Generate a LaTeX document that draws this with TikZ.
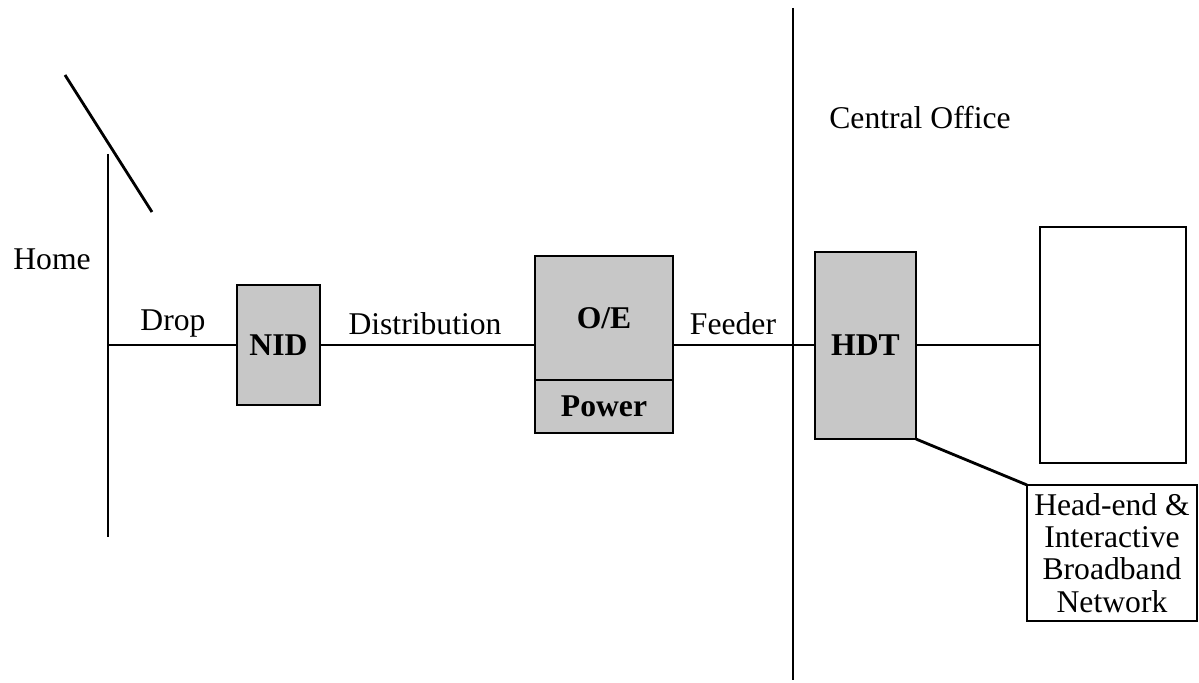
\documentclass[tikz,border=0pt]{standalone}
\usepackage{fontspec}
\setmainfont{Liberation Serif}
\usetikzlibrary{positioning,calc}
\tikzset{
  gbox/.style={draw,line width=2pt,fill=black!22,font=\bfseries,
               inner sep=0pt,outer sep=0pt,align=center},
  wbox/.style={draw,line width=2pt,fill=white,inner sep=2pt,outer sep=0pt,
               align=center},
  wire/.style={line width=2pt},
  lbl/.style={inner sep=0pt},
}
\begin{document}
\fontsize{22.5}{23}\selectfont
\begin{tikzpicture}[x=0.025cm,y=-0.025cm]
  \useasboundingbox (0,0) rectangle (1199,683);
  % home wall and roof
  \draw[wire] (108,154) -- (108,537);
  \draw[wire] (65,75) -- (152,212);
  \coordinate (wall) at (108,345);
  \node[lbl] (home) at (52,259) {Home};
  % boxes
  \node[gbox,minimum width=2.075cm,minimum height=3cm] (nid) at (278.5,345) {NID};
  \node[gbox,minimum width=3.45cm,minimum height=3.1cm] (oe) at (604,318) {O/E};
  \node[gbox,minimum width=3.45cm,minimum height=1.325cm,below=0pt of oe] (pwr) {Power};
  \node[gbox,minimum width=2.525cm,minimum height=4.675cm] (hdt) at (865.5,345.5) {HDT};
  \node[wbox,minimum width=3.65cm,minimum height=5.9cm] (rack) at (1113,345) {};
  \node[wbox,minimum width=4.25cm,minimum height=3.4cm] (hend) at (1112,553)
       {Head-end \&\\Interactive\\Broadband\\Network};
  % central office boundary
  \draw[wire] (793,8) -- (793,680);
  \node[lbl] (co) at (920,118) {Central Office};
  % links
  \draw[wire] (wall) -- (nid.west);
  \draw[wire] (nid.east) -- (oe.west |- nid.east);
  \draw[wire] (oe.east |- nid.east) -- (hdt.west |- nid.east);
  \draw[wire] (hdt.east |- rack.west) -- (rack.west);
  \draw[wire] (hdt.south east) -- (hend.north west);
  \node[lbl] (drop) at (173,324) {Drop};
  \node[lbl] (dist) at (425,324) {Distribution};
  \node[lbl] (feed) at (733,324) {Feeder};
\end{tikzpicture}
\end{document}
